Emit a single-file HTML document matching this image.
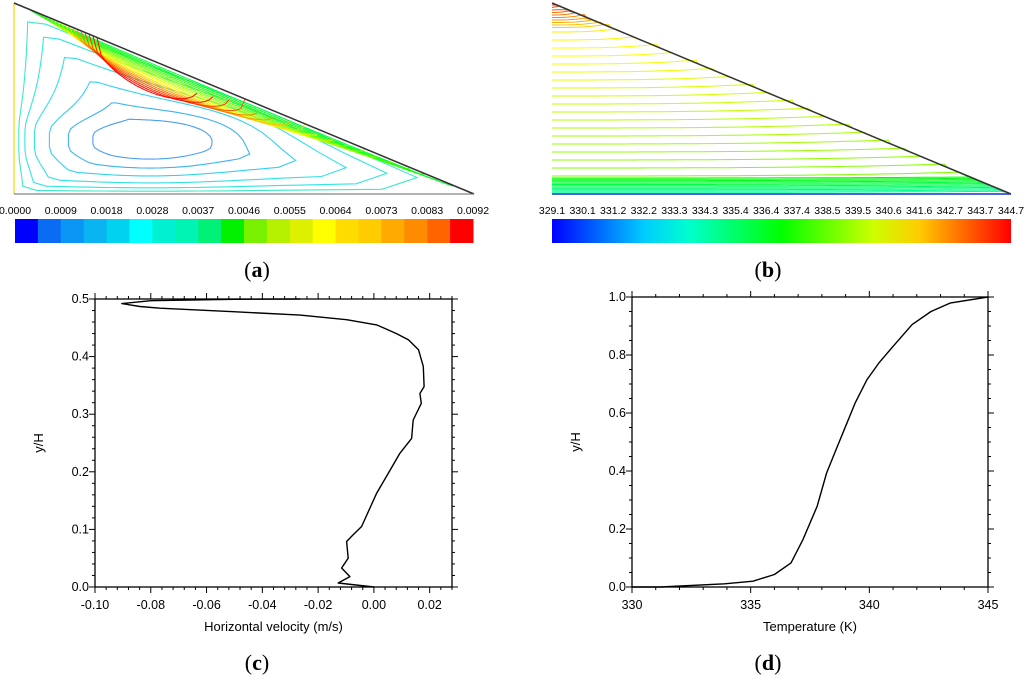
<!DOCTYPE html>
<html><head><meta charset="utf-8"><style>
body{margin:0;background:#fff;width:1024px;height:679px;overflow:hidden;font-family:"Liberation Sans",sans-serif}
svg{position:absolute;left:0;top:0}
</style></head><body>
<svg id="s" width="1024" height="679" font-family="Liberation Sans, sans-serif">
<g id="ga"></g>
<g id="gb"></g>
<g id="gc"></g>
<g id="gd"></g>
<text x="257" y="277" font-family="Liberation Serif, serif" font-size="22" text-anchor="middle">(<tspan font-weight="bold">a</tspan>)</text>
<text x="768" y="277" font-family="Liberation Serif, serif" font-size="22" text-anchor="middle">(<tspan font-weight="bold">b</tspan>)</text>
<text x="257" y="670" font-family="Liberation Serif, serif" font-size="22" text-anchor="middle">(<tspan font-weight="bold">c</tspan>)</text>
<text x="768" y="670" font-family="Liberation Serif, serif" font-size="22" text-anchor="middle">(<tspan font-weight="bold">d</tspan>)</text>
</svg>
<script>
const NS="http://www.w3.org/2000/svg";
function mk(p,t,a){const e=document.createElementNS(NS,t);for(const k in a)e.setAttribute(k,a[k]);p.appendChild(e);return e;}

// ---- data ----
const velX=[0,-0.0128,-0.0086,-0.0116,-0.0092,-0.0098,-0.0074,-0.0044,0.001,0.0045,0.0093,0.0135,0.0141,0.017,0.0165,0.018,0.0177,0.016,0.0124,0.0081,0.001,-0.0098,-0.0265,-0.0504,-0.0767,-0.0839,-0.0904,-0.080,-0.05,-0.0265];
const velY=[0,0.007,0.018,0.033,0.05,0.079,0.091,0.105,0.163,0.192,0.232,0.258,0.29,0.319,0.336,0.348,0.383,0.412,0.429,0.44,0.455,0.464,0.472,0.478,0.484,0.487,0.492,0.497,0.4995,0.5];
const velTicks=["-0.10","-0.08","-0.06","-0.04","-0.02","0.00","0.02"];
const velYTicks=["0.0","0.1","0.2","0.3","0.4","0.5"];
const tempX=[330,331.2,333.9,335.1,336.0,336.7,337.2,337.8,338.2,338.6,339.0,339.4,339.9,340.4,341.0,341.8,342.6,343.4,345];
const tempY=[0,0,0.011,0.02,0.043,0.083,0.163,0.278,0.393,0.474,0.554,0.634,0.715,0.772,0.83,0.905,0.95,0.979,1.0];
const tempTicks=["330","335","340","345"];
const tempYTicks=["0.0","0.2","0.4","0.6","0.8","1.0"];
const psiLabels=["0.0000","0.0009","0.0018","0.0028","0.0037","0.0046","0.0055","0.0064","0.0073","0.0083","0.0092"];
const tLabels=["329.1","330.1","331.2","332.2","333.3","334.3","335.4","336.4","337.4","338.5","339.5","340.6","341.6","342.7","343.7","344.7"];

function jet(t){t=Math.max(0,Math.min(1,t));const h=240*(1-t);return "hsl("+h+",100%,50%)";}

// ---- chart drawer ----
function chart(g,o){
  const sx=v=>o.x0+(v-o.xmin)/(o.xmax-o.xmin)*(o.x1-o.x0);
  const sy=v=>o.y0-(v-o.ymin)/(o.ymax-o.ymin)*(o.y0-o.y1);
  let r=mk(g,"rect",{x:o.x0,y:o.y1,width:o.x1-o.x0,height:o.y0-o.y1,fill:"none",stroke:"#000","stroke-width":1.3});
  
  
  for(let v=o.xmin;v<=o.xmax+1e-9;v+=o.xminor){const X=sx(v);const maj=Math.abs(Math.round((v-o.xt0)/o.xmaj)*o.xmaj-(v-o.xt0))<1e-9;const L=maj?6:3;
    mk(g,"line",{x1:X,x2:X,y1:o.y0,y2:o.y0+L,stroke:"#000"});mk(g,"line",{x1:X,x2:X,y1:o.y1,y2:o.y1-L,stroke:"#000"});}
  for(let v=o.ymin;v<=o.ymax+1e-9;v+=o.yminor){const Y=sy(v);const maj=Math.abs(Math.round(v/o.ymaj)*o.ymaj-v)<1e-9;const L=maj?6:3;
    mk(g,"line",{x1:o.x0,x2:o.x0-L,y1:Y,y2:Y,stroke:"#000"});mk(g,"line",{x1:o.x1,x2:o.x1+L,y1:Y,y2:Y,stroke:"#000"});}
  o.xticks.forEach(t=>{const e=mk(g,"text",{x:sx(+t),y:o.y0+22,"font-size":12.5,"text-anchor":"middle"});e.textContent=t;
    
    });
  o.yticks.forEach(t=>{const e=mk(g,"text",{x:o.x0-6,y:sy(+t)+4,"font-size":12.5,"text-anchor":"end"});e.textContent=t;
    
    });
  let xt=mk(g,"text",{x:(o.x0+o.x1)/2,y:o.y0+44,"font-size":13,"text-anchor":"middle"});xt.textContent=o.xtitle;
  
  
  let yt=mk(g,"text",{x:0,y:0,"font-size":13,"text-anchor":"middle",transform:"translate("+(o.x0-52)+","+((o.y0+o.y1)/2)+") rotate(-90)"});yt.textContent="y/H";
  
  
  const d=o.xs.map((v,i)=>(i?"L":"M")+sx(v).toFixed(1)+","+sy(o.ys[i]).toFixed(1)).join("");
  let p=mk(g,"path",{d:d,fill:"none",stroke:"#000","stroke-width":1.4,"stroke-linejoin":"round"});
  
  
}
chart(document.getElementById("gc"),{x0:95,x1:452,y0:587,y1:299,xmin:-0.10,xmax:0.028,ymin:0,ymax:0.5,xminor:0.004,xmaj:0.02,xt0:-0.10,yminor:0.02,ymaj:0.1,xticks:velTicks,yticks:velYTicks,xs:velX,ys:velY,xtitle:"Horizontal velocity (m/s)"});
chart(document.getElementById("gd"),{x0:632,x1:988,y0:587,y1:297,xmin:330,xmax:345,ymin:0,ymax:1,xminor:1,xmaj:5,xt0:330,yminor:0.05,ymaj:0.2,xticks:tempTicks,yticks:tempYTicks,xs:tempX,ys:tempY,xtitle:"Temperature (K)"});

// ---- panel a: streamlines ----
(function(){
 const g=document.getElementById("ga");
 const cx=150,cy=140;
 const m=191/460;
 function loop(f){
  const pts=[];
  for(let i=0;i<=90;i++){
   const a=i/90*2*Math.PI;
   const dx=Math.cos(a),dy=Math.sin(a);
   let tmax=1e9;
   if(dx<0)tmax=Math.min(tmax,(14-cx)/dx);
   if(dy>0)tmax=Math.min(tmax,(194-cy)/dy);
   const num=3+(cx-14)*m-cy;const den=dy-m*dx;
   if(den<0)tmax=Math.min(tmax,num/den);
   const ex=90,ey=28;
   const er=1/Math.sqrt((dx*dx)/(ex*ex)+(dy*dy)/(ey*ey));
   const w=Math.pow(f,3);
   const r=(w*tmax+(1-w)*Math.min(er*1.6,tmax))*f;
   pts.push([cx+dx*r,cy+dy*r]);
  }
  return "M"+pts.map(p=>p[0].toFixed(1)+","+p[1].toFixed(1)).join("L")+"Z";
 }
 const fs=[0.42,0.6,0.74,0.85,0.92,0.965];
 const lc=["#4a9ff0","#3ab4f0","#33d2f0","#33e0e8","#33e6e0","#40e8c8"];
 fs.forEach((f,i)=>{
  let e=mk(g,"path",{d:loop(f),fill:"none",stroke:lc[i],"stroke-width":1.1});
  
  
 });
 // jet band along hypotenuse
 for(let k=1;k<=18;k++){
  const off=2+k*1.7;
  const t=Math.min(1,0.42+k*0.033);
  const xs=25+k*4, xe=470-k*15;
  let d="";
  for(let x=xs;x<=xe;x+=4){
   const u=(x-xs)/(xe-xs);
   const o=off*Math.pow(Math.sin(Math.PI*u),0.35);
   const y=3+(x-14)*m+o;
   d+=(d?"L":"M")+x.toFixed(1)+","+y.toFixed(1);
  }
  let e=mk(g,"path",{d:d,fill:"none",stroke:jet(t),"stroke-width":1});
  
  
 }
 let w=mk(g,"line",{x1:14,y1:3,x2:14,y2:194,stroke:"#f5e23a","stroke-width":1.5});
 
 
 let h=mk(g,"line",{x1:14,y1:3,x2:474,y2:194,stroke:"#333","stroke-width":1.5});
 
 
 let bt=mk(g,"line",{x1:14,y1:194,x2:474,y2:194,stroke:"#666","stroke-width":1});
 
 
 const cols=["#0000ff","#0a6cf5","#0a96f5","#0ab4f0","#00d2f0","#00ffff","#00f0d2","#00f5b4","#00f078","#00f000","#78f000","#b4f000","#dcf000","#ffff00","#ffdc00","#ffcc00","#ffaa00","#ff8c00","#ff6400","#ff0000"];
 const w0=15,w1=473,bw=(w1-w0)/cols.length;
 cols.forEach((c,i)=>{let r=mk(g,"rect",{x:w0+i*bw,y:219,width:bw+0.5,height:24,fill:c});
  
  });
 psiLabels.forEach((t,i)=>{let e=mk(g,"text",{x:w0+i*(w1-w0)/10,y:214,"font-size":10.5,"text-anchor":"middle"});e.textContent=t;
  
  });
})();

// ---- panel b: isotherms ----
(function(){
 const g=document.getElementById("gb");
 const x0=552,y0=3,x1=1011,yb=194;
 const hx=y=>x0+(y-y0)/(yb-y0)*(x1-x0);
 const lines=[];
 for(let y=5;y<30;y+=2.5)lines.push(y);
 for(let y=32;y<178;y+=8)lines.push(y);
 for(let y=178;y<193;y+=1.3)lines.push(y);
 lines.forEach(y=>{
  let t;
  if(y<30)t=0.95-(y-5)/25*0.17;
  else if(y<178)t=0.77-(y-30)/148*0.15;
  else t=0.5-(y-178)/15*0.16;
  const xe=hx(y);
  let d="M"+x0+","+y;
  for(let x=x0+8;x<xe-2;x+=8){const u=(x-x0)/(xe-x0);d+="L"+x+","+(y-(y>177?1:4)*Math.pow(u,3)).toFixed(1);}
  d+="L"+xe.toFixed(1)+","+y;
  let e=mk(g,"path",{d:d,fill:"none",stroke:jet(t),"stroke-width":1});
  
  
 });
 let h=mk(g,"line",{x1:x0,y1:y0,x2:x1,y2:yb,stroke:"#333","stroke-width":1.5});
 
 
 let bt=mk(g,"line",{x1:x0,y1:yb,x2:x1,y2:yb,stroke:"#1030d0","stroke-width":1.5});
 
 
 const defs=mk(g,"defs",{});
 const lg=mk(defs,"linearGradient",{id:"jetg",x1:0,x2:1,y1:0,y2:0});
 for(let i=0;i<=10;i++)mk(lg,"stop",{offset:i/10,"stop-color":jet(i/10)});
 let r=mk(g,"rect",{x:552,y:219,width:459,height:24,fill:"url(#jetg)"});
 
 
 tLabels.forEach((t,i)=>{let e=mk(g,"text",{x:552+i*459/15,y:214,"font-size":10.5,"text-anchor":"middle"});e.textContent=t;
  
  });
})();
</script>
</body></html>
